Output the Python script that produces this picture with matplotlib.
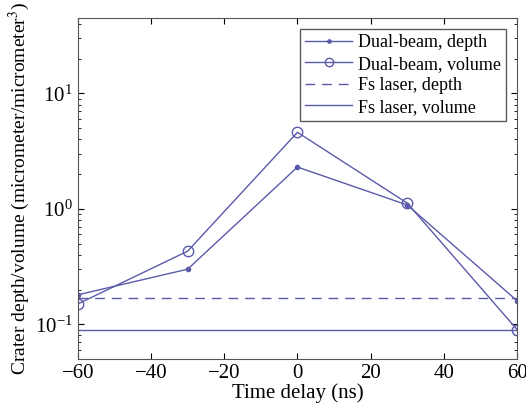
import numpy as np
import matplotlib.pyplot as plt

plt.rcParams['font.family'] = ['Liberation Serif', 'DejaVu Serif']
plt.rcParams['mathtext.fontset'] = 'stix'

delay = [-60, -30, 0, 30, 60]
dual_depth = [0.18, 0.30, 2.3, 1.08, 0.16]
dual_volume = [0.15, 0.43, 4.6, 1.12, 0.09]
fs_depth = 0.17
fs_volume = 0.089

col = '#5a5aaa'

fig = plt.figure(figsize=(5.26, 4.08), dpi=100)
ax = fig.add_axes([0.148, 0.120, 0.835, 0.836])

ax.plot(delay, dual_depth, color=col, lw=1, marker='.', ms=6, label='Dual-beam, depth')
ax.plot(delay, dual_volume, color=col, lw=1, marker='o', ms=7.5, mfc='none', label='Dual-beam, volume')
ax.plot([-60, 60], [fs_depth, fs_depth], color=col, lw=1, ls=(0, (7, 5)), label='Fs laser, depth')
ax.plot([-60, 60], [fs_volume, fs_volume], color=col, lw=1, label='Fs laser, volume')

ax.set_yscale('log')
ax.set_xlim(-60, 60)
ax.set_ylim(0.05, 45)
ax.set_xticks([-60, -40, -20, 0, 20, 40, 60])
ax.tick_params(which='both', direction='in', top=True, right=True, labelsize=15)
ax.tick_params(which='major', length=4)
ax.tick_params(which='minor', length=2)
for s in ax.spines.values():
    s.set_color('#555555')

ax.set_xlabel('Time delay (ns)', fontsize=15, labelpad=0)
ax.set_ylabel('Crater depth/volume (micrometer/micrometer$^3$)', fontsize=14, labelpad=2)

leg = ax.legend(loc='upper right', fontsize=13, frameon=True, fancybox=False,
                edgecolor='#333333', handlelength=2.6, borderpad=0.3,
                labelspacing=0.25, handletextpad=0.3, borderaxespad=0.6,
                markerscale=0.8)
leg.get_frame().set_linewidth(1)

fig.savefig('out.png', dpi=100)
